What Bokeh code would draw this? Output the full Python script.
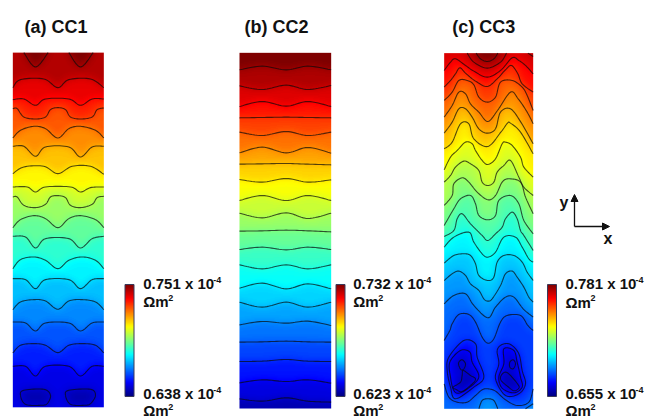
import numpy as np
from bokeh.embed import file_html
from bokeh.layouts import row
from bokeh.models import (Arrow, ColorBar, FixedTicker, Label, LinearColorMapper,
                          NormalHead, Range1d)
from bokeh.plotting import figure
from bokeh.resources import INLINE

# ---- colour-bar limits and texts ----
TITLES = ["(a) CC1", "(b) CC2", "(c) CC3"]
V_MAX = [0.751, 0.732, 0.781]
V_MIN = [0.638, 0.623, 0.655]
UNIT_TEXT = "Ωm"

# ---- contours, (x, y) pairs, domain units; bottom-left origin ----
CC1_SIZE = (273, 1064)
CC1_TOP = [
    [(33,1064),(68,1021),(106,1064)],
    [(168,1064),(203,1021),(241,1064)],
]
CC1_LINES = [
    [(0,959),(23,983),(93,985),(135,959),(168,983),(233,985),(273,959)],
    [(0,923),(33,925),(68,906),(98,925),(168,925),(203,906),(238,925),(273,925)],
    [(0,896),(13,896),(33,871),(68,865),(98,871),(113,893),(135,899),(158,893),(173,871),(203,865),(238,871),(253,893),(273,898)],
    [(0,808),(23,831),(63,843),(98,836),(135,808),(168,836),(203,843),(248,831),(273,808)],
    [(0,783),(33,783),(68,753),(98,781),(168,781),(203,751),(238,781),(273,783)],
    [(0,701),(33,721),(93,723),(135,701),(178,723),(233,723),(273,699)],
    [(0,661),(43,661),(68,646),(98,661),(173,661),(203,646),(233,659),(273,661)],
    [(0,631),(13,631),(33,606),(68,599),(98,609),(113,631),(135,635),(158,629),(173,606),(203,599),(238,609),(253,629),(273,633)],
    [(0,539),(23,563),(63,575),(98,566),(135,539),(168,566),(203,575),(248,563),(273,539)],
    [(0,513),(38,511),(68,478),(98,506),(168,506),(203,478),(238,506),(273,513)],
    [(0,416),(23,443),(63,451),(98,441),(135,416),(168,441),(208,451),(248,441),(273,416)],
    [(0,386),(38,383),(68,356),(98,383),(168,383),(203,356),(238,383),(273,386)],
    [(0,293),(23,316),(63,323),(98,319),(135,294),(168,319),(208,323),(248,316),(273,293)],
    [(0,256),(38,253),(68,229),(98,253),(168,253),(203,229),(238,253),(273,256)],
    [(0,163),(23,186),(63,191),(98,186),(135,164),(168,186),(208,191),(248,186),(273,163)],
    [(0,123),(38,123),(68,94),(98,123),(168,123),(203,94),(238,123),(273,123)],
]
CC1_LOOPS = [
    [(23,36),(33,51),(93,54),(113,36),(103,11),(83,6),(38,9)],
    [(158,36),(168,51),(233,54),(248,36),(233,11),(213,6),(173,9)],
]

CC2_SIZE = (275, 1067)
CC2_TOP = []
CC2_LINES = [
    [(0,1016),(68,1027),(140,1016),(205,1027),(275,1016)],
    [(0,968),(68,957),(140,970),(205,957),(275,969)],
    [(0,906),(68,921),(140,907),(205,921),(275,906)],
    [(0,872),(68,873),(140,874),(205,873),(275,872)],
    [(0,829),(68,819),(140,831),(205,819),(275,829)],
    [(0,767),(68,784),(140,767),(205,783),(275,766)],
    [(0,733),(68,734),(140,735),(205,733),(275,731)],
    [(0,687),(68,679),(140,690),(205,679),(275,686)],
    [(0,624),(68,639),(140,624),(205,639),(275,624)],
    [(0,586),(68,572),(140,587),(205,570),(275,586)],
    [(0,532),(68,533),(140,535),(205,533),(275,530)],
    [(0,477),(68,484),(140,476),(205,484),(275,477)],
    [(0,431),(68,419),(140,431),(205,419),(275,431)],
    [(0,361),(68,376),(140,359),(205,374),(275,359)],
    [(0,319),(68,304),(140,319),(205,304),(275,319)],
    [(0,251),(68,261),(140,256),(205,262),(275,249)],
    [(0,199),(68,200),(140,202),(205,200),(275,199)],
    [(0,141),(68,142),(140,147),(205,142),(275,141)],
    [(0,77),(68,86),(140,81),(205,86),(275,76)],
    [(0,29),(68,22),(140,32),(205,22),(275,19)],
]

CC3_SIZE = (267, 1067)
CC3_TOP = [
    [(96,1067),(109,1050),(129,1042),(149,1050),(161,1067)],
    [(69,1067),(89,1040),(129,1022),(169,1040),(187,1067)],
    [(251,1067),(267,1057)],
]
CC3_LINES = [
    [(0,1015),(19,1040),(34,1050),(64,1030),(89,1013),(129,995),(169,1015),(204,1053),(224,1045),(244,1030),(267,1005)],
    [(0,965),(19,985),(34,1005),(47,1023),(64,1007),(94,983),(129,967),(159,990),(184,1017),(202,1030),(221,1005),(234,975),(267,950)],
    [(0,925),(24,950),(44,985),(69,985),(89,972),(104,935),(129,920),(154,935),(169,980),(204,985),(234,965),(249,940),(267,895)],
    [(0,875),(24,910),(44,950),(64,945),(79,915),(104,890),(131,862),(160,895),(199,950),(222,930),(249,890),(267,855)],
    [(0,827),(24,860),(44,900),(64,900),(84,875),(104,840),(129,827),(154,840),(169,890),(199,900),(230,860),(267,795)],
    [(0,780),(24,800),(49,855),(74,855),(89,810),(131,787),(170,830),(190,857),(199,857),(229,830),(267,765)],
    [(0,717),(19,755),(39,775),(64,800),(84,795),(94,775),(114,745),(131,733),(154,750),(174,795),(184,800),(204,790),(229,755),(239,725),(267,695)],
    [(0,680),(19,700),(34,725),(59,743),(79,735),(104,715),(114,680),(131,670),(149,680),(159,710),(179,730),(199,745),(224,695),(239,665),(267,640)],
    [(0,610),(24,640),(29,675),(54,693),(74,680),(99,650),(131,627),(154,640),(174,680),(194,690),(229,680),(244,635),(267,585)],
    [(0,550),(29,600),(49,630),(79,640),(94,615),(104,580),(131,567),(154,580),(164,625),(199,640),(224,615),(239,565),(267,525)],
    [(0,517),(29,535),(39,570),(54,585),(79,555),(114,520),(131,505),(154,525),(174,545),(184,570),(204,590),(219,570),(229,535),(239,520),(267,475)],
    [(0,485),(29,515),(74,530),(89,500),(114,465),(131,455),(154,470),(179,515),(214,515),(234,485),(254,450),(267,440)],
    [(0,437),(29,460),(59,465),(79,460),(94,435),(104,400),(131,385),(149,395),(159,440),(179,460),(209,460),(234,440),(249,410),(267,385)],
    [(0,385),(24,405),(44,413),(64,400),(79,375),(104,355),(119,330),(131,323),(144,330),(169,370),(184,405),(204,413),(219,395),(239,365),(254,335),(267,320)],
    [(0,315),(29,340),(64,345),(89,310),(131,273),(154,305),(184,335),(209,335),(237,300),(267,275)],
    [(0,205),(17,235),(24,255),(44,283),(74,283),(94,260),(114,215),(131,197),(149,210),(169,260),(189,280),(229,280),(251,250),(267,235)],
]
CC3_LOOPS = [
    [(14,155),(59,205),(94,195),(99,155),(119,95),(89,65),(34,30),(19,65),(9,115)],
    [(17,140),(49,175),(77,170),(84,140),(104,100),(89,75),(49,48),(29,55),(19,95)],
    [(44,140),(54,147),(64,135),(59,120),(51,117),(44,130)],
    [(57,115),(79,100),(94,90),(84,75),(54,52),(36,58),(27,65),(49,80),(54,100)],
    [(159,175),(174,193),(199,193),(224,165),(234,115),(244,75),(224,45),(184,40),(154,90),(164,135)],
    [(179,180),(209,175),(219,140),(229,95),(234,65),(209,48),(174,62),(164,95),(179,135)],
    [(197,140),(207,147),(214,135),(207,120),(197,125)],
    [(171,100),(184,110),(199,100),(222,72),(224,62),(210,54),(192,66),(171,85)],
]
CC3_BOTTOM = [
    [(0,75),(14,35),(39,20),(69,20),(94,40),(114,57),(131,60),(154,53),(184,27),(219,10),(254,20),(267,60)],
    [(104,0),(114,25),(131,30),(149,25),(161,0)],
    [(244,0),(267,15)],
]

JET = ["#00007F", "#0000FF", "#007FFF", "#00FFFF", "#7FFF7F", "#FFFF00", "#FF7F00", "#FF0000", "#7F0000"]


def make_palette(anchors, n=256):
    rgb = np.array([[int(c[i:i + 2], 16) for i in (1, 3, 5)] for c in anchors], float)
    t = np.linspace(0, len(anchors) - 1, n)
    out = np.stack([np.interp(t, np.arange(len(anchors)), rgb[:, k]) for k in range(3)], 1)
    return ["#%02x%02x%02x" % tuple(int(round(v)) for v in c) for c in out]


def smooth(points, closed=False, steps=10):
    p = np.array(points, float)
    if len(p) < 3:
        return p
    n = len(p)
    res = []
    last = n if closed else n - 1
    for i in range(last):
        if closed:
            p0, p1, p2, p3 = p[(i - 1) % n], p[i], p[(i + 1) % n], p[(i + 2) % n]
        else:
            p0, p1, p2, p3 = p[max(i - 1, 0)], p[i], p[i + 1], p[min(i + 2, n - 1)]
        for t in np.linspace(0, 1, steps, endpoint=False):
            res.append(0.5 * (2 * p1 + (p2 - p0) * t + (2 * p0 - 5 * p1 + 4 * p2 - p3) * t ** 2
                              + (3 * p1 - p0 - 3 * p2 + p3) * t ** 3))
    res.append(p[0] if closed else p[-1])
    return np.array(res)


def parity(poly, xs, ys):
    """True where a ray going down from the grid point crosses the polygon/line an odd number of times."""
    mask = np.zeros((len(ys), len(xs)), bool)
    for (x0, y0), (x1, y1) in zip(poly[:-1], poly[1:]):
        if x0 == x1:
            continue
        cols = np.where((xs >= min(x0, x1)) & (xs < max(x0, x1)))[0]
        for c in cols:
            yc = y0 + (y1 - y0) * (xs[c] - x0) / (x1 - x0)
            mask[ys > yc, c] ^= True
    return mask


def blur(a, sigma):
    r = int(3 * sigma)
    k = np.array([np.exp(-0.5 * (i / sigma) ** 2) for i in range(-r, r + 1)])
    k /= k.sum()
    a = np.pad(a, r, mode="edge")
    a = np.apply_along_axis(lambda v: np.convolve(v, k, mode="same"), 0, a)
    a = np.apply_along_axis(lambda v: np.convolve(v, k, mode="same"), 1, a)
    return a[r:-r, r:-r]


def field(size, top, lines, loops, bottom):
    W, H = size
    xs = np.arange(1.5, W, 3.0)
    ys = np.arange(1.5, H, 3.0)
    idx = np.zeros((len(ys), len(xs)))
    for ln in top + lines:
        idx += parity(smooth(ln), xs, ys)
    for ln in loops:
        idx -= parity(smooth(ln, closed=True), xs, ys)
    for ln in bottom:
        s = smooth(ln)
        poly = np.vstack([s, [[s[-1][0], 0]], [[s[0][0], 0]], [s[0]]])
        idx += parity(poly, xs, ys)
    lo, hi = idx.min(), idx.max()
    return 0.05 + 0.95 * (blur(idx, 4.2) - lo) / (hi - lo)


PALETTE = make_palette(JET)
FONT = "Liberation Sans"
FIG_H = 418
TOP_GAP = 40


def panel(i, size, top, lines, loops, bottom, fig_left, width, dom_left, dom_bottom, bar_left, text_left, centres):
    W, H = size
    xd = lambda px: (px - dom_left) * 3
    yd = lambda py: (dom_bottom - py) * 3
    p = figure(width=width, height=FIG_H, output_backend="svg", toolbar_location=None,
               x_axis_type=None, y_axis_type=None,
               x_range=Range1d(xd(fig_left), xd(fig_left + width)),
               y_range=Range1d(yd(418), yd(TOP_GAP)),
               min_border_left=0, min_border_right=0, min_border_bottom=0, min_border_top=TOP_GAP,
               outline_line_color=None, background_fill_color="white", border_fill_color="white")
    p.grid.visible = False
    p.title.text = TITLES[i]
    p.title.text_font = FONT
    p.title.text_font_size = "18px"
    p.title.text_font_style = "bold"
    p.title.text_color = "#111111"
    p.title.align = "left"
    p.title.offset = [24, 10, 13.7][i]
    p.title.standoff = 7

    lo, hi = V_MIN[i], V_MAX[i]
    mapper = LinearColorMapper(palette=PALETTE, low=lo, high=hi)
    values = lo + (hi - lo) * field(size, top, lines, loops, bottom)
    p.image(image=[values], x=0, y=0, dw=W, dh=H, color_mapper=mapper)

    xs, ys = [], []
    for ln in top + lines + bottom:
        s = smooth(ln)
        xs.append(s[:, 0].tolist()); ys.append(s[:, 1].tolist())
    for ln in loops:
        s = smooth(ln, closed=True)
        xs.append(s[:, 0].tolist()); ys.append(s[:, 1].tolist())
    p.multi_line(xs, ys, line_color="#0a0a0a", line_alpha=0.7, line_width=1.1)

    bar = ColorBar(color_mapper=mapper, width=9, height=112, padding=0,
                   location=(bar_left - fig_left, 418 - 396),
                   ticker=FixedTicker(ticks=[]), major_tick_line_color=None, minor_tick_line_color=None,
                   major_label_text_font_size="0px", bar_line_color="#3a3a5a", bar_line_width=1,
                   border_line_color=None, background_fill_color=None)
    p.add_layout(bar, "center")

    def txt(s, px, py, size_px):
        p.add_layout(Label(x=xd(px), y=yd(py), text=s, text_font=FONT, text_font_size=f"{size_px}px",
                           text_font_style="bold", text_color="#111111", text_baseline="middle"))

    c0, c1, c2, c3 = centres
    txt(f"{hi:.3f} x 10", text_left, c0, 15)
    txt("-4", text_left + 70, c0 - 4, 9)
    txt(UNIT_TEXT, text_left, c1, 15)
    txt("2", text_left + 25, c1 - 4, 9)
    txt(f"{lo:.3f} x 10", text_left, c2, 15)
    txt("-4", text_left + 70, c2 - 4, 9)
    txt(UNIT_TEXT, text_left, c3, 15)
    txt("2", text_left + 25, c3 - 4, 9)
    return p, xd, yd, txt


pa, *_ = panel(0, CC1_SIZE, CC1_TOP, CC1_LINES, CC1_LOOPS, [], 0, 234, 12.33, 406.8, 124.5, 142.7, (283, 301, 393, 410))
pb, *_ = panel(1, CC2_SIZE, CC2_TOP, CC2_LINES, [], [], 234, 204, 239, 408, 335.5, 352.7, (283, 301, 393, 410))
pc, xd, yd, txt = panel(2, CC3_SIZE, CC3_TOP, CC3_LINES, CC3_LOOPS, CC3_BOTTOM, 438, 208, 443.67, 408.3, 547, 565, (283, 301.5, 393, 410))

for ex, ey in ((574, 194), (609, 226)):
    pc.add_layout(Arrow(end=NormalHead(size=7, fill_color="#111111", line_color="#111111"),
                        x_start=xd(574), y_start=yd(226), x_end=xd(ex), y_end=yd(ey),
                        line_color="#111111", line_width=1.3))
txt("y", 559, 202, 16)
txt("x", 603, 238, 16)

layout = row(pa, pb, pc, spacing=0)
open("out.html", "w").write(file_html(layout, INLINE))
